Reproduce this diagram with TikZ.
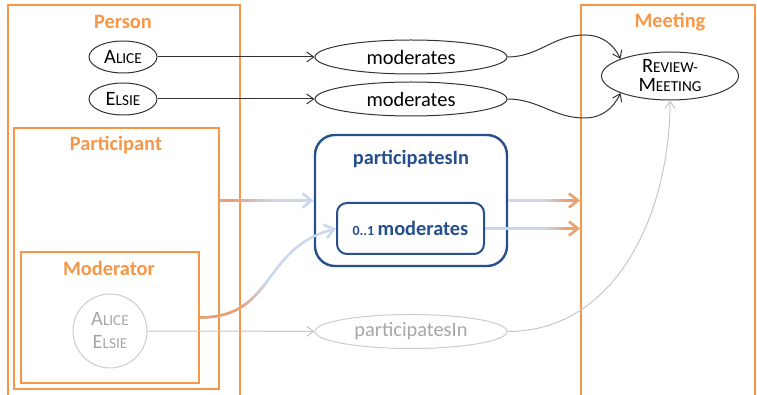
\documentclass[tikz,border=0pt]{standalone}
\usepackage{fontspec}
\setmainfont{Carlito}
\usepackage{tikz}
\usetikzlibrary{shapes.geometric, arrows.meta, positioning, fit}
\definecolor{boxorange}{RGB}{247,150,70}
\definecolor{fadeorange}{RGB}{234,160,112}
\definecolor{relblue}{RGB}{38,79,140}
\definecolor{paleblue}{RGB}{202,216,238}
\newcommand{\fakesc}[2]{#1{\fontsize{7.6}{9}\selectfont #2}}
\tikzstyle{orangebox} = [rectangle, draw=boxorange, line width=1pt, inner sep=0pt]
\tikzstyle{orangelabel} = [text=boxorange, font=\fontsize{10.2}{12}\selectfont\bfseries]
\tikzstyle{instance} = [ellipse, draw=black!80, line width=0.5pt, minimum width=34pt, minimum height=16pt, inner sep=0pt]
\tikzstyle{relation} = [ellipse, draw=black!80, line width=0.5pt, minimum width=96pt, minimum height=17pt, inner sep=0pt]
\tikzstyle{relbox} = [rectangle, draw=relblue, line width=1.2pt, text=relblue, font=\fontsize{10.2}{12}\selectfont\bfseries]
\tikzstyle{arrow} = [draw=black!80, line width=0.5pt, -{Straight Barb[length=3.5pt,width=5pt]}]
\tikzstyle{greyarrow} = [draw=gray!45, line width=0.5pt, -{Straight Barb[length=3.5pt,width=5pt]}]
\tikzstyle{fadeline} = [line width=1.3pt]
% colour fades from #1 to #2 between x=#3 and x=#4
\newcommand{\fadedraw}[5]{%
  \draw[fadeline, #2, -{Straight Barb[length=4.5pt,width=7pt]}] #5;
  \begin{scope}
    \clip (0,0) rectangle (#3,395);
    \draw[fadeline, #1] #5;
  \end{scope}
  \foreach \k in {0,...,9}{%
    \pgfmathtruncatemacro\pct{95-10*\k}
    \begin{scope}
      \clip ({#3+(#4-#3)*\k/10},0) rectangle ({#3+(#4-#3)*(\k+1)/10+0.3},395);
      \draw[fadeline, #1!\pct!#2] #5;
    \end{scope}}}

\begin{document}
\begin{tikzpicture}[x=0.5pt, y=-0.5pt, font=\fontsize{10.2}{12}\selectfont]
    \useasboundingbox (0,0) rectangle (757,395);
    \clip (0,0) rectangle (757,395);

    % Classes
    \node[orangebox, fit={(8,5) (240,420)}] (person) {};
    \node[orangebox, fit={(581,5) (755,420)}] (meeting) {};
    \node[orangebox, fit={(14,128) (219,389)}] (participant) {};
    \node[orangebox, fit={(21,252) (199,383)}] (moderator) {};
    \node[orangelabel] at (123,22) {Person};
    \node[orangelabel] at (670,22) {Meeting};
    \node[orangelabel] at (116,145) {Participant};
    \node[orangelabel] at (109,268) {Moderator};

    % Instances
    \node[instance] (alice) at (123,57) {\fakesc{A}{LICE}};
    \node[instance] (elsie) at (123,99) {\fakesc{E}{LSIE}};
    \node[instance, minimum width=68.5pt, minimum height=24pt, align=center, font=\fontsize{10.2}{9.5}\selectfont] (review) at (670,76) {\fakesc{R}{EVIEW-}\\\fakesc{M}{EETING}};
    \node[circle, draw=gray!40, line width=0.5pt, minimum size=37pt, inner sep=0pt, align=center, text=gray!70, font=\fontsize{10.2}{11.5}\selectfont] (modpeople) at (110,331) {\fakesc{A}{LICE}\\\fakesc{E}{LSIE}};

    % Relations
    \node[relation] (mod1) at (411,57) {moderates};
    \node[relation] (mod2) at (411,99) {moderates};
    \node[relation, draw=gray!40, text=gray!70] (partgray) at (411,331.5) {participatesIn};
    \node[relbox, minimum width=96pt, minimum height=65.5pt, rounded corners=10pt] (partin) at (411,200.5) {};
    \node[relbox, draw=none] at (411,159) {participatesIn};
    \node[relbox, line width=1pt, minimum width=73.5pt, minimum height=25.5pt, rounded corners=5pt] (modin) at (410.5,228.5) {{\fontsize{7}{8}\selectfont 0..1}\,moderates};

    % Links
    \draw[arrow] (alice) -- (mod1);
    \draw[arrow] (elsie) -- (mod2);
    \draw[arrow] (mod1.east) to[out=0, in=180] ++(77,-22) to[out=0, in=115] (review.161);
    \draw[arrow] (mod2.east) to[out=0, in=180] ++(77,19) to[out=0, in=-115] (review.199);
    \draw[greyarrow] (modpeople) -- (partgray);
    \draw[greyarrow] (partgray.east) to[out=0, in=-90] (review.south);

    % Faded links
    \fadedraw{fadeorange}{paleblue}{232}{272}{(participant.east |- partin) -- (partin.west)}
    \fadedraw{fadeorange}{paleblue}{240}{268}{(moderator.east) .. controls +(75,0) and +(-75,20) .. (modin.west)}
    \fadedraw{paleblue}{fadeorange}{543}{568}{(partin.east) -- (partin.east -| meeting.west)}
    \fadedraw{paleblue}{fadeorange}{543}{568}{(modin.east) -- (modin.east -| meeting.west)}

\end{tikzpicture}
\end{document}
